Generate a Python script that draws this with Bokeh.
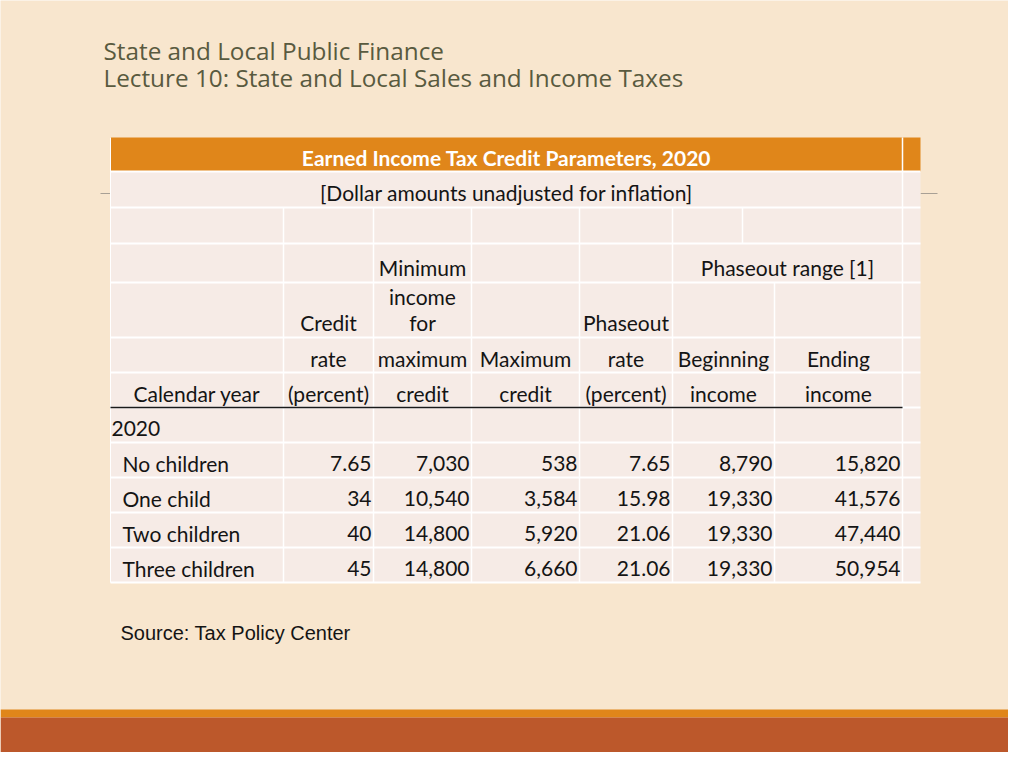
from bokeh.plotting import figure
from bokeh.models import Range1d
from bokeh.core.properties import value
from bokeh.embed import file_html
from bokeh.resources import INLINE

# ---------------- data ----------------
title_lines = ["State and Local Public Finance",
               "Lecture 10: State and Local Sales and Income Taxes"]
table_title = "Earned Income Tax Credit Parameters, 2020"
table_subtitle = "[Dollar amounts unadjusted for inflation]"
year_label = "2020"
categories = ["No children", "One child", "Two children", "Three children"]
credit_rate = [7.65, 34, 40, 45]
min_income = [7030, 10540, 14800, 14800]
max_credit = [538, 3584, 5920, 6660]
phaseout_rate = [7.65, 15.98, 21.06, 21.06]
phaseout_begin = [8790, 19330, 19330, 19330]
phaseout_end = [15820, 41576, 47440, 50954]
source_note = "Source: Tax Policy Center"

# header labels: (column index, header line index, text)
header_cells = [
    (0, 4, "Calendar year"),
    (1, 2, "Credit"), (1, 3, "rate"), (1, 4, "(percent)"),
    (2, 0, "Minimum"), (2, 1, "income"), (2, 2, "for"), (2, 3, "maximum"), (2, 4, "credit"),
    (3, 3, "Maximum"), (3, 4, "credit"),
    (4, 2, "Phaseout"), (4, 3, "rate"), (4, 4, "(percent)"),
    (5, 3, "Beginning"), (5, 4, "income"),
    (6, 3, "Ending"), (6, 4, "income"),
]
span_label = "Phaseout range [1]"

# ---------------- layout ----------------
BG = "#F8E6CE"
BODY = "#F6EBE6"
ORANGE = "#E0861A"
DARK = "#BC582B"
TITLE_C = "#595A3F"
TXT = "#141414"
FONT = "Lato"

col_edges = [110, 283, 373, 471, 579, 672, 774, 902, 920]
row_edges = [137, 171, 207, 243, 282, 337, 372, 407, 442, 477, 512, 547, 582]
header_line_y = [267, 296, 322, 358, 393]
data_row_y = [463, 498, 533, 568]
fs = "21px"

p = figure(width=1008, height=752, output_backend="svg", toolbar_location=None,
           x_range=Range1d(0, 1008), y_range=Range1d(752, 0),
           min_border=0, outline_line_color=None)
p.axis.visible = False
p.grid.visible = False
p.background_fill_color = BG
p.border_fill_color = BG

# bottom stripes
p.quad(left=[0], right=[1024], top=[709], bottom=[717], fill_color=ORANGE, line_color=None)
p.quad(left=[0], right=[1024], top=[717], bottom=[768], fill_color=DARK, line_color=None)

# decoration line behind table
p.segment(x0=[100, 920], y0=[193, 193], x1=[110, 937], y1=[193, 193],
          line_color="#A8A095", line_width=1)

# table body & header
left, right = col_edges[0], col_edges[-1]
p.quad(left=[left], right=[right], top=[row_edges[1]], bottom=[row_edges[-1]],
       fill_color=BODY, line_color=None)
p.quad(left=[left], right=[right], top=[row_edges[0]], bottom=[row_edges[1]],
       fill_color=ORANGE, line_color=None)

# grid lines (white)
hy = row_edges[1:]
p.segment(x0=[left] * len(hy), y0=hy, x1=[right] * len(hy), y1=hy,
          line_color="white", line_width=2)
vx = [283, 373, 471, 579, 672]
p.segment(x0=vx, y0=[row_edges[2]] * len(vx), x1=vx, y1=[row_edges[-1]] * len(vx),
          line_color="white", line_width=1.5)
p.segment(x0=[774], y0=[row_edges[4]], x1=[774], y1=[row_edges[-1]],
          line_color="white", line_width=1.5)
p.segment(x0=[742], y0=[row_edges[2]], x1=[742], y1=[row_edges[3]],
          line_color="white", line_width=1.5)
p.segment(x0=[902], y0=[row_edges[0]], x1=[902], y1=[row_edges[-1]],
          line_color="white", line_width=1.5)
p.segment(x0=[left], y0=[row_edges[0]], x1=[left], y1=[row_edges[-1]],
          line_color="white", line_width=1)
# black rule under column headings
p.segment(x0=[left], y0=[row_edges[7]], x1=[col_edges[7]], y1=[row_edges[7]],
          line_color="#1a1a1a", line_width=1.5)

# titles
p.text(x=[103, 103], y=[50, 77], text=title_lines, text_font=value("Open Sans"),
       text_font_size="24.3px", text_color=TITLE_C, text_baseline="middle",
       text_align="left")

mid_table = (col_edges[0] + col_edges[-2]) / 2
p.text(x=[mid_table], y=[157], text=[table_title], text_font=value(FONT),
       text_font_size=fs, text_font_style="bold", text_color="white",
       text_baseline="middle", text_align="center")
p.text(x=[mid_table], y=[192], text=[table_subtitle], text_font=value(FONT),
       text_font_size=fs, text_color=TXT, text_baseline="middle", text_align="center")

# column headings
hx = [(col_edges[c] + col_edges[c + 1]) / 2 for c, _, _ in header_cells]
hy_t = [header_line_y[l] for _, l, _ in header_cells]
ht = [t for _, _, t in header_cells]
p.text(x=hx, y=hy_t, text=ht, text_font=value(FONT), text_font_size=fs,
       text_color=TXT, text_baseline="middle", text_align="center")
p.text(x=[(col_edges[5] + col_edges[7]) / 2], y=[header_line_y[0]], text=[span_label],
       text_font=value(FONT), text_font_size=fs, text_color=TXT,
       text_baseline="middle", text_align="center")

# year row
p.text(x=[col_edges[0] + 1], y=[428], text=[year_label], text_font=value(FONT),
       text_font_size=fs, text_color=TXT, text_baseline="middle", text_align="left")

# category labels
p.text(x=[122] * len(categories), y=data_row_y, text=categories, text_font=value(FONT),
       text_font_size=fs, text_color=TXT, text_baseline="middle", text_align="left")


def fmt(v):
    if isinstance(v, float):
        return f"{v:.2f}"
    return f"{v:,}"


columns = [credit_rate, min_income, max_credit, phaseout_rate, phaseout_begin, phaseout_end]
for ci, col in enumerate(columns):
    xr = col_edges[ci + 2] - 2
    p.text(x=[xr] * len(col), y=data_row_y, text=[fmt(v) for v in col],
           text_font=value(FONT), text_font_size=fs, text_color=TXT,
           text_baseline="middle", text_align="right")

# source
p.text(x=[120], y=[632], text=[source_note], text_font=value("Liberation Sans"),
       text_font_size="20px", text_color=TXT, text_baseline="middle", text_align="left")

open("out.html", "w").write(file_html(p, INLINE))
